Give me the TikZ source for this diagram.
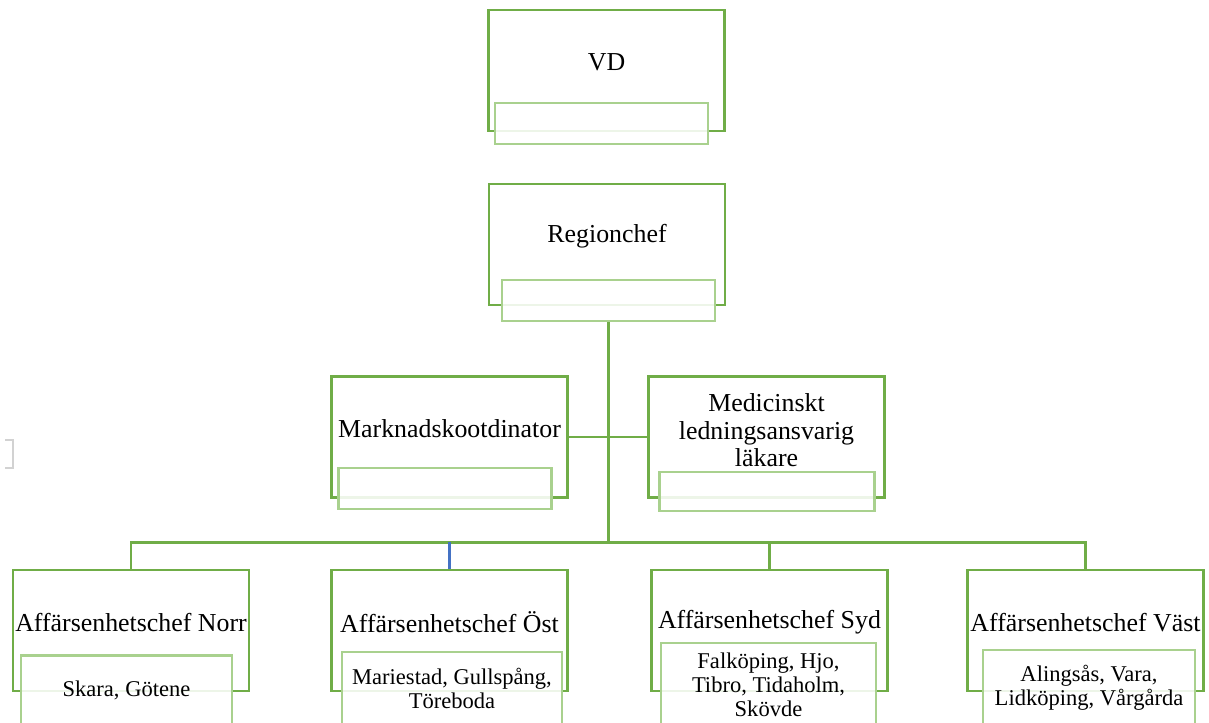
\documentclass[tikz,border=0pt]{standalone}
\usepackage{fontspec}
\setmainfont{Liberation Serif}
\usetikzlibrary{positioning}
\definecolor{boxgreen}{HTML}{70AD47}
\definecolor{subgreen}{HTML}{A9D18E}
\definecolor{linkblue}{HTML}{4472C4}

\begin{document}
\begin{tikzpicture}[x=0.75pt,y=-0.75pt,
    chief/.style={draw=boxgreen,line width=1.9pt,fill=white,
        minimum width=177pt,minimum height=91pt,inner sep=0pt},
    title/.style={align=center,font=\fontsize{19.4}{20.5}\selectfont},
    area/.style={draw=subgreen,line width=1.9pt,fill=white,fill opacity=0.88,
        text opacity=1,minimum width=160pt,minimum height=31pt,inner sep=0pt,
        align=center,font=\fontsize{16.9}{18}\selectfont},
    link/.style={draw=boxgreen,line width=1.9pt}]
    \path[use as bounding box,clip] (0,0) rectangle (1209,722);

    % Top of the chart
    \node[chief,label={[title,yshift=6pt]center:VD}] (vd) at (606.5,70.5) {};
    \node[area] (vdsub) at (601.5,123.5) {};
    \node[chief,label={[title,yshift=6pt]center:Regionchef}] (reg) at (607,244.5) {};
    \node[area] (regsub) at (608.5,300.5) {};

    % Staff functions
    \node[chief,label={[title,yshift=6pt]center:Marknadskootdinator}] (mark) at (449.5,437) {};
    \node[area] (marksub) at (445,488.5) {};
    \node[chief,label={[title,yshift=5pt]center:Medicinskt\\ledningsansvarig\\läkare}] (med) at (766.5,437) {};
    \node[area,minimum width=161pt,minimum height=29pt] (medsub) at (767,491.5) {};

    % Business units
    \node[chief,label={[title,yshift=6pt]center:Affärsenhetschef Norr}] (norr) at (131,630.5) {};
    \node[area,minimum width=158pt,minimum height=52pt] (norrsub) at (126.5,690) {Skara, Götene};
    \node[chief,label={[title,yshift=6pt]center:Affärsenhetschef Öst}] (ost) at (449.5,630.5) {};
    \node[area,minimum width=165pt,minimum height=55pt] (ostsub) at (452,688.5) {Mariestad, Gullspång,\\Töreboda};
    \node[chief,label={[title,yshift=6pt]center:Affärsenhetschef Syd}] (syd) at (769.5,630.5) {};
    \node[area,minimum width=161pt,minimum height=62pt] (sydsub) at (768.5,684.5) {Falköping, Hjo,\\Tibro, Tidaholm,\\Skövde};
    \node[chief,label={[title,yshift=6pt]center:Affärsenhetschef Väst}] (vast) at (1085.5,630.5) {};
    \node[area,minimum width=159pt,minimum height=57pt] (vastsub) at (1089,688) {Alingsås, Vara,\\Lidköping, Vårgårda};

    % Connectors
    \draw[link] (regsub.south) -- ++(0,220) coordinate (hub);
    \draw[link] (mark.east) -- (med.west);
    \draw[link] (norr.north) |- (hub) -| (vast.north);
    \draw[link] (syd.north) -- (syd.north |- hub);
    \draw[draw=linkblue,line width=1.9pt] (ost.north) -- (ost.north |- hub);

    % Left margin mark
    \draw[gray!35,line width=0.8pt] (5,440) -- (13,440) -- (13,468) -- (5,468);
\end{tikzpicture}
\end{document}
